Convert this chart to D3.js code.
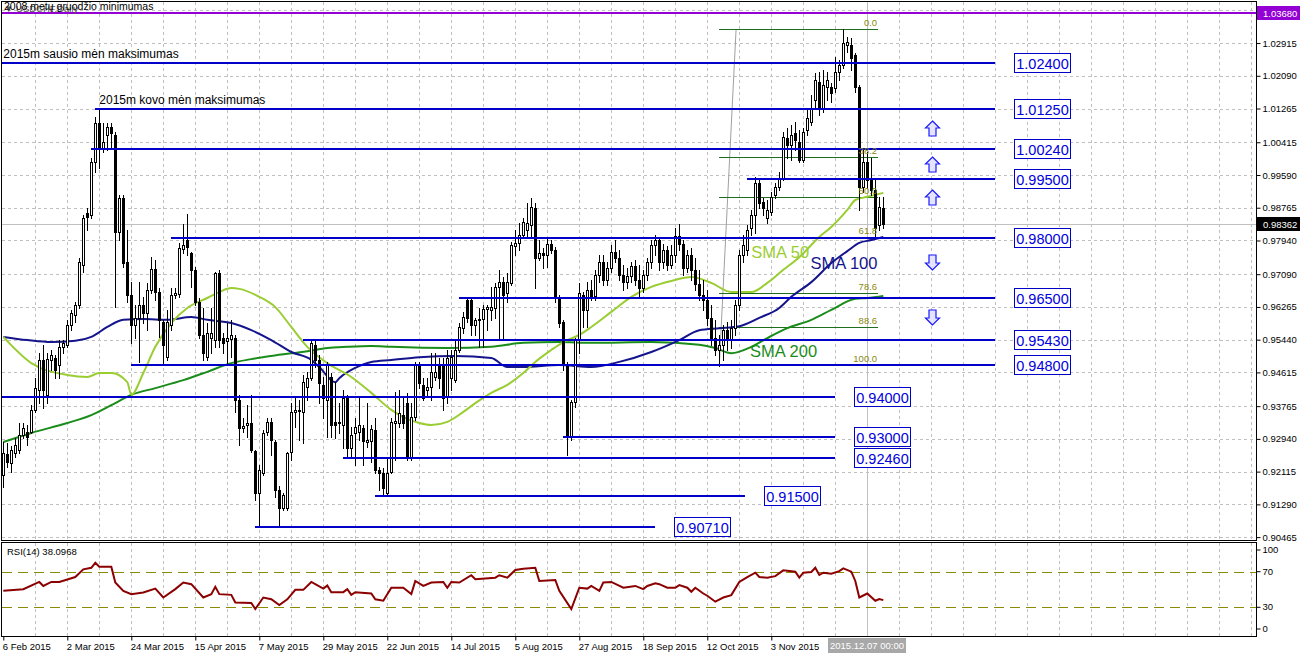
<!DOCTYPE html>
<html><head><meta charset="utf-8">
<script src="https://cdn.jsdelivr.net/npm/d3@7"></script>
<style>
html,body{margin:0;padding:0;background:#fff;}
svg{display:block;font-family:"Liberation Sans",Arial,sans-serif;}
</style></head><body>
<svg id="c" width="1300" height="654"></svg>
<script>
// ---------- DATA ----------
const openP=[
0.9203,0.9256,0.9233,0.9258,0.9266,0.9304,0.9311,0.9311,0.9367,0.9417,
0.9493,0.9405,0.9493,0.9498,0.9480,0.9526,0.9531,0.9581,0.9606,0.9631,
0.9732,0.9863,0.9858,0.9992,1.0090,1.0027,1.0060,1.0080,1.0060,0.9815,
0.9901,0.9740,0.9656,0.9581,0.9599,0.9631,0.9611,0.9669,0.9722,0.9664,
0.9589,0.9500,0.9581,0.9656,0.9659,0.9773,0.9795,0.9762,0.9720,0.9639,
0.9556,0.9500,0.9548,0.9543,0.9712,0.9548,0.9541,0.9546,0.9548,0.9392,
0.9321,0.9329,0.9334,0.9264,0.9158,0.9208,0.9311,0.9337,0.9286,0.9165,
0.9120,0.9120,0.9261,0.9362,0.9367,0.9362,0.9425,0.9447,0.9531,0.9493,
0.9430,0.9392,0.9450,0.9337,0.9334,0.9329,0.9400,0.9271,0.9309,0.9311,
0.9321,0.9286,0.9289,0.9316,0.9216,0.9208,0.9158,0.9211,0.9334,0.9334,
0.9354,0.9384,0.9246,0.9349,0.9480,0.9430,0.9417,0.9425,0.9450,0.9480,
0.9480,0.9400,0.9447,0.9442,0.9518,0.9573,0.9644,0.9644,0.9581,0.9594,
0.9596,0.9621,0.9619,0.9624,0.9677,0.9689,0.9662,0.9687,0.9780,0.9788,
0.9808,0.9820,0.9833,0.9876,0.9750,0.9762,0.9757,0.9785,0.9770,0.9649,
0.9589,0.9480,0.9299,0.9387,0.9543,0.9656,0.9619,0.9669,0.9654,0.9707,
0.9740,0.9694,0.9725,0.9765,0.9750,0.9707,0.9689,0.9704,0.9730,0.9694,
0.9674,0.9707,0.9740,0.9783,0.9795,0.9740,0.9770,0.9732,0.9757,0.9805,
0.9785,0.9725,0.9757,0.9720,0.9684,0.9656,0.9644,0.9599,0.9548,0.9518,
0.9531,0.9568,0.9543,0.9573,0.9631,0.9757,0.9770,0.9825,0.9858,0.9939,
0.9891,0.9851,0.9866,0.9909,0.9929,0.9951,1.0052,1.0035,1.0065,1.0042,
0.9997,1.0072,1.0093,1.0148,1.0193,1.0128,1.0181,1.0181,1.0178,1.0219,
1.0236,1.0287,1.0287,1.0261,1.0181,0.9929,0.9992,0.9946,0.9921,0.9833,
0.9876];
const highP=[
0.9286,0.9284,0.9276,0.9296,0.9334,0.9334,0.9329,0.9379,0.9447,0.9510,
0.9531,0.9510,0.9518,0.9505,0.9543,0.9543,0.9594,0.9619,0.9639,0.9750,
0.9858,0.9876,1.0002,1.0105,1.0128,1.0090,1.0090,1.0090,1.0067,0.9909,
0.9909,0.9820,0.9689,0.9631,0.9689,0.9652,0.9687,0.9752,0.9745,0.9674,
0.9594,0.9619,0.9674,0.9674,0.9788,0.9836,0.9861,0.9765,0.9727,0.9649,
0.9624,0.9586,0.9624,0.9715,0.9720,0.9561,0.9586,0.9594,0.9556,0.9405,
0.9347,0.9379,0.9405,0.9266,0.9228,0.9316,0.9347,0.9347,0.9291,0.9175,
0.9158,0.9261,0.9384,0.9400,0.9392,0.9455,0.9462,0.9543,0.9543,0.9505,
0.9450,0.9488,0.9460,0.9437,0.9384,0.9417,0.9405,0.9324,0.9347,0.9400,
0.9329,0.9384,0.9329,0.9347,0.9223,0.9221,0.9248,0.9347,0.9412,0.9417,
0.9400,0.9410,0.9384,0.9488,0.9488,0.9447,0.9447,0.9510,0.9510,0.9498,
0.9498,0.9518,0.9518,0.9543,0.9586,0.9614,0.9649,0.9649,0.9599,0.9624,
0.9631,0.9631,0.9677,0.9687,0.9720,0.9702,0.9712,0.9790,0.9820,0.9838,
0.9851,0.9888,0.9901,0.9888,0.9795,0.9775,0.9800,0.9795,0.9778,0.9656,
0.9594,0.9488,0.9392,0.9548,0.9687,0.9664,0.9689,0.9694,0.9720,0.9757,
0.9757,0.9740,0.9783,0.9795,0.9770,0.9732,0.9725,0.9740,0.9745,0.9732,
0.9720,0.9750,0.9795,0.9808,0.9800,0.9785,0.9780,0.9783,0.9825,0.9836,
0.9795,0.9770,0.9775,0.9750,0.9720,0.9694,0.9669,0.9631,0.9594,0.9556,
0.9581,0.9589,0.9594,0.9644,0.9770,0.9808,0.9833,0.9871,0.9954,0.9951,
0.9901,0.9896,0.9916,0.9939,0.9967,1.0067,1.0077,1.0085,1.0093,1.0072,
1.0077,1.0123,1.0161,1.0216,1.0219,1.0224,1.0219,1.0191,1.0256,1.0249,
1.0327,1.0307,1.0304,1.0266,1.0186,1.0022,1.0017,1.0002,0.9946,0.9904,
0.9904];
const lowP=[
0.9173,0.9223,0.9211,0.9248,0.9258,0.9296,0.9279,0.9309,0.9362,0.9384,
0.9372,0.9384,0.9468,0.9447,0.9447,0.9510,0.9526,0.9568,0.9589,0.9624,
0.9715,0.9820,0.9851,0.9967,0.9977,1.0017,1.0022,1.0027,0.9626,0.9795,
0.9727,0.9639,0.9536,0.9548,0.9488,0.9586,0.9568,0.9662,0.9644,0.9551,
0.9480,0.9493,0.9568,0.9649,0.9652,0.9762,0.9757,0.9677,0.9631,0.9548,
0.9493,0.9493,0.9510,0.9526,0.9526,0.9510,0.9485,0.9500,0.9362,0.9279,
0.9311,0.9299,0.9261,0.9140,0.9072,0.9203,0.9304,0.9253,0.9148,0.9074,
0.9115,0.9115,0.9241,0.9324,0.9291,0.9284,0.9392,0.9442,0.9475,0.9384,
0.9347,0.9299,0.9299,0.9296,0.9309,0.9271,0.9248,0.9248,0.9228,0.9291,
0.9228,0.9274,0.9236,0.9208,0.9165,0.9153,0.9153,0.9208,0.9241,0.9324,
0.9321,0.9241,0.9241,0.9342,0.9422,0.9392,0.9400,0.9392,0.9442,0.9422,
0.9367,0.9384,0.9417,0.9437,0.9513,0.9561,0.9589,0.9556,0.9556,0.9526,
0.9526,0.9568,0.9594,0.9599,0.9548,0.9543,0.9639,0.9682,0.9757,0.9770,
0.9803,0.9803,0.9800,0.9674,0.9745,0.9725,0.9727,0.9762,0.9639,0.9576,
0.9468,0.9253,0.9291,0.9374,0.9510,0.9576,0.9576,0.9644,0.9644,0.9689,
0.9682,0.9682,0.9715,0.9740,0.9694,0.9669,0.9674,0.9689,0.9682,0.9649,
0.9664,0.9694,0.9725,0.9757,0.9720,0.9725,0.9720,0.9725,0.9740,0.9770,
0.9707,0.9715,0.9694,0.9669,0.9644,0.9619,0.9581,0.9531,0.9505,0.9478,
0.9493,0.9518,0.9523,0.9556,0.9619,0.9740,0.9757,0.9808,0.9813,0.9876,
0.9858,0.9838,0.9858,0.9901,0.9921,0.9946,1.0002,0.9997,1.0022,0.9992,
0.9992,1.0060,1.0085,1.0128,1.0110,1.0118,1.0148,1.0143,1.0168,1.0198,
1.0229,1.0269,1.0224,1.0168,0.9871,0.9916,0.9926,0.9909,0.9803,0.9820,
0.9825];
const closeP=[
0.9258,0.9236,0.9266,0.9279,0.9304,0.9321,0.9299,0.9367,0.9422,0.9493,
0.9417,0.9495,0.9505,0.9468,0.9526,0.9536,0.9581,0.9611,0.9631,0.9740,
0.9851,0.9853,0.9992,1.0090,1.0027,1.0042,1.0080,1.0065,0.9815,0.9901,
0.9737,0.9656,0.9581,0.9599,0.9631,0.9611,0.9669,0.9722,0.9664,0.9594,
0.9531,0.9589,0.9656,0.9662,0.9775,0.9783,0.9778,0.9720,0.9639,0.9556,
0.9510,0.9561,0.9561,0.9712,0.9543,0.9536,0.9548,0.9556,0.9392,0.9321,
0.9326,0.9334,0.9266,0.9158,0.9216,0.9309,0.9337,0.9291,0.9165,0.9120,
0.9153,0.9258,0.9362,0.9367,0.9364,0.9437,0.9447,0.9536,0.9493,0.9435,
0.9397,0.9480,0.9329,0.9329,0.9337,0.9397,0.9271,0.9304,0.9324,0.9329,
0.9289,0.9291,0.9319,0.9216,0.9208,0.9170,0.9208,0.9337,0.9339,0.9359,
0.9334,0.9246,0.9349,0.9480,0.9435,0.9397,0.9425,0.9462,0.9462,0.9447,
0.9397,0.9498,0.9500,0.9518,0.9576,0.9601,0.9599,0.9581,0.9594,0.9596,
0.9621,0.9626,0.9626,0.9677,0.9689,0.9656,0.9689,0.9783,0.9788,0.9808,
0.9841,0.9838,0.9878,0.9750,0.9762,0.9757,0.9785,0.9770,0.9649,0.9586,
0.9480,0.9299,0.9387,0.9543,0.9662,0.9619,0.9669,0.9654,0.9707,0.9740,
0.9694,0.9725,0.9765,0.9750,0.9707,0.9689,0.9704,0.9730,0.9694,0.9674,
0.9707,0.9740,0.9783,0.9795,0.9740,0.9770,0.9732,0.9757,0.9805,0.9785,
0.9725,0.9757,0.9720,0.9684,0.9656,0.9644,0.9599,0.9548,0.9518,0.9531,
0.9568,0.9543,0.9573,0.9631,0.9757,0.9783,0.9820,0.9858,0.9939,0.9888,
0.9876,0.9871,0.9904,0.9929,0.9951,1.0055,1.0035,1.0060,1.0047,0.9997,
1.0067,1.0103,1.0128,1.0198,1.0128,1.0186,1.0198,1.0166,1.0219,1.0236,
1.0292,1.0294,1.0254,1.0181,0.9929,0.9992,0.9946,0.9921,0.9825,0.9878,
0.9836];

const dateLabels=["6 Feb 2015","2 Mar 2015","24 Mar 2015","15 Apr 2015","7 May 2015","29 May 2015","22 Jun 2015","14 Jul 2015","5 Aug 2015","27 Aug 2015","18 Sep 2015","12 Oct 2015","3 Nov 2015"];
const dateLabelBars=[0,16,32,48,64,80,96,112,128,144,160,176,192];
const priceTicks=[1.03740,1.02915,1.02090,1.01265,1.00415,0.99590,0.98765,0.97940,0.97090,0.96265,0.95440,0.94615,0.93765,0.92940,0.92115,0.91290,0.90465];
const rsiTicks=[100,70,30,0];

const sma50Bars=[0,7,16,21,24,27,31,32,35,38,42,46,51,54,57,59,64,68,72,76,81,87,92,97,100,104,107,111,115,118,122,126,130,133,137,140,144,147,152,157,162,167,172,177,182,187,191,195,199,204,207,211,213,216,220];
const sma50Vals=[0.9551,0.9485,0.9455,0.9450,0.9460,0.9460,0.9437,0.9405,0.9460,0.9526,0.9586,0.9624,0.9649,0.9664,0.9674,0.9672,0.9652,0.9626,0.9576,0.9526,0.9485,0.9450,0.9410,0.9367,0.9349,0.9334,0.9329,0.9337,0.9362,0.9384,0.9410,0.9430,0.9460,0.9488,0.9518,0.9538,0.9556,0.9576,0.9614,0.9652,0.9677,0.9692,0.9702,0.9687,0.9664,0.9664,0.9687,0.9720,0.9752,0.9803,0.9828,0.9871,0.9896,0.9904,0.9914];
const sma100Bars=[0,6,12,18,22,26,30,35,41,47,51,57,62,67,72,77,79,83,84,88,92,97,104,113,122,126,130,139,147,154,162,169,174,179,184,189,194,197,202,207,211,214,217,220];
const sma100Vals=[0.9551,0.9543,0.9538,0.9541,0.9551,0.9576,0.9594,0.9596,0.9594,0.9601,0.9594,0.9586,0.9568,0.9543,0.9513,0.9493,0.9475,0.9437,0.9447,0.9473,0.9488,0.9493,0.9500,0.9503,0.9498,0.9475,0.9475,0.9480,0.9475,0.9488,0.9513,0.9543,0.9568,0.9573,0.9578,0.9599,0.9624,0.9652,0.9689,0.9737,0.9767,0.9788,0.9795,0.9803];
const sma200Bars=[0,7,16,22,27,32,38,45,51,57,62,67,76,81,86,92,97,111,122,130,139,147,162,174,178,182,187,191,196,202,207,213,216,220];
const sma200Vals=[0.9286,0.9309,0.9334,0.9354,0.9379,0.9405,0.9422,0.9442,0.9463,0.9485,0.9495,0.9503,0.9515,0.9523,0.9526,0.9528,0.9526,0.9523,0.9526,0.9536,0.9538,0.9536,0.9538,0.9531,0.9523,0.9510,0.9526,0.9548,0.9573,0.9594,0.9619,0.9647,0.9649,0.9654];

const rsiBars=[0,5,9,10,12,14,18,20,22,23,24,27,28,30,32,35,38,40,43,45,47,50,52,53,54,57,58,62,63,65,67,69,71,73,75,77,80,81,82,85,86,87,88,92,93,95,97,100,102,103,105,107,110,111,112,114,117,118,123,124,126,128,130,133,134,138,139,142,144,146,147,149,150,152,155,158,160,161,163,164,166,168,169,171,172,173,175,176,178,180,182,184,186,188,189,191,193,195,198,199,200,202,203,204,205,207,209,210,212,213,214,216,218,219,220];
const rsiVals=[48.5,50.4,58.5,54,58.5,58.5,64,72.6,74.4,80,75.6,75.6,57.8,48.5,44.8,46.7,51,41,50.4,57.8,56,41,44.8,53,44.8,44,35.5,34.8,28,41,39,32.6,39,49.6,49.6,58.5,51,54.4,47,47,50.4,44,47,45.5,39,37.4,52,52,44.8,59.6,54,57.8,58.5,52,58.5,57.8,66,61.5,63.3,66,63.3,71.9,73.3,74.4,59.6,60.7,48.5,28,52,51,54,48.5,57.8,58.5,52,54,50.4,54,57,56,52,52,55,52,47.4,52,45.5,43,36.3,41,43.7,58.5,64,68.9,64,63.3,65,71.5,70,63.3,68.9,69.6,74.4,66.3,68.9,67.8,70.7,73.7,70,59.6,41,45.5,37.4,39.3,38.0968];
const rsiLevels=[70,30];

const levelPrices=[1.02400,1.01250,1.00240,0.99500,0.98000,0.96500,0.95430,0.94800,0.94000,0.93000,0.92460,0.91500,0.90710];
const levelStartBars=[-0.3,23,22,186,42,114,75,32,-1,140,85,93,63];
const levelEndBars=[248,248,248,248,248,248,248,248,208,208,208,185.5,163];
const levelNotes=[{price:1.02400,bar:0,text:"2015m sausio mėn maksimumas"},{price:1.01250,bar:24,text:"2015m kovo mėn maksimumas"}];
const topLevelPrice=1.03680, topLevelNote="2008 metų gruodžio minimumas";
const bidPrice=0.98362;
const markerBar=216, markerLabel="2015.12.07 00:00";
const fibLevels=[0,38.2,50,61.8,78.6,88.6,100];
const fibHigh=1.0327, fibLow=0.9480, fibStartBar=179, fibEndBar=218.7, fibTopBar=183.2;
const arrowBar=232.1;
const upArrowPrices=[1.0077,0.9987,0.9904];
const downArrowPrices=[0.9740,0.9601];
const smaNames=["SMA 50","SMA 100","SMA 200"];
const smaLabelBars=[187,201.8,186.7];
const smaLabelPrices=[0.9750,0.9722,0.9500];
const symbolTitle="USDCHF,Daily";
const rsiTitle="RSI(14) 38.0968";

// ---------- LAYOUT ----------
const svg=d3.select("#c");
const L=2,R=1256,T=2,B=540,RT=543,RB=636;
const x=d3.scaleLinear().domain([0,313]).range([3.3,1255.3]);
const y=d3.scaleLinear().domain([0.90465,1.02915]).range([537.1,43.05]);
const yr=d3.scaleLinear().domain([0,100]).range([634,545]);
const px=v=>Math.round(v)+0.5;

svg.append("rect").attr("width",1300).attr("height",654).attr("fill","#fff");
svg.append("defs").append("clipPath").attr("id","mc").append("rect").attr("x",L).attr("y",T).attr("width",R-L).attr("height",B-T);
svg.select("defs").append("clipPath").attr("id","rc").append("rect").attr("x",L).attr("y",RT).attr("width",R-L).attr("height",RB-RT);

const main=svg.append("g").attr("clip-path","url(#mc)");
const rsiG=svg.append("g").attr("clip-path","url(#rc)");

// vertical grids
const vGrid=d3.range(8,313,8);
[[main,T,B],[rsiG,RT,RB]].forEach(([g,t,b])=>{
  g.selectAll("line.vg").data(vGrid).join("line").attr("class","vg")
   .attr("x1",d=>px(x(d))).attr("x2",d=>px(x(d))).attr("y1",t).attr("y2",b)
   .attr("stroke","#c0c0c0").attr("stroke-dasharray","3,3").attr("shape-rendering","crispEdges");
});
// horizontal grid
main.selectAll("line.hg").data(priceTicks).join("line").attr("class","hg")
  .attr("x1",L).attr("x2",R).attr("y1",d=>px(y(d))).attr("y2",d=>px(y(d)))
  .attr("stroke","#c0c0c0").attr("stroke-dasharray","3,3").attr("shape-rendering","crispEdges");

// bid line and marker line
main.append("line").attr("x1",L).attr("x2",R).attr("y1",px(y(bidPrice))).attr("y2",px(y(bidPrice))).attr("stroke","#c0c0c0").attr("shape-rendering","crispEdges");
[[main,T,B],[rsiG,RT,RB]].forEach(([g,t,b])=>{
  g.append("line").attr("x1",px(x(markerBar))).attr("x2",px(x(markerBar))).attr("y1",t).attr("y2",b).attr("stroke","#c0c0c0").attr("shape-rendering","crispEdges");
});

// fib
const fibPrice=l=>fibHigh-(fibHigh-fibLow)*l/100;
main.append("line").attr("x1",x(fibStartBar)).attr("y1",y(fibLow)).attr("x2",x(fibTopBar)).attr("y2",y(fibHigh))
  .attr("stroke","#a0a0a0").attr("stroke-width",1);
main.selectAll("line.fib").data(fibLevels).join("line").attr("class","fib")
  .attr("x1",x(fibStartBar)).attr("x2",x(fibEndBar)).attr("y1",d=>px(y(fibPrice(d)))).attr("y2",d=>px(y(fibPrice(d))))
  .attr("stroke","#1e6e1e").attr("shape-rendering","crispEdges");

// SMA lines
const smaSets=[[sma200Bars,sma200Vals,"#1a8c1a"],[sma100Bars,sma100Vals,"#14148c"],[sma50Bars,sma50Vals,"#9acd32"]];
const ln=d3.line().x(d=>x(d[0])).y(d=>y(d[1])).curve(d3.curveMonotoneX);
smaSets.forEach(([bs,vs,col])=>{
  main.append("path").attr("d",ln(bs.map((b,i)=>[b,vs[i]]))).attr("fill","none").attr("stroke",col).attr("stroke-width",2);
});

// candles
const bars=openP.map((o,i)=>({i,o,h:highP[i],l:lowP[i],c:closeP[i]}));
const cg=main.append("g").attr("shape-rendering","crispEdges");
cg.selectAll("line").data(bars).join("line")
  .attr("x1",d=>Math.round(x(d.i))+0.5).attr("x2",d=>Math.round(x(d.i))+0.5)
  .attr("y1",d=>Math.round(y(d.h))).attr("y2",d=>Math.round(y(d.l))+1).attr("stroke","#000");
cg.selectAll("rect").data(bars).join("rect")
  .attr("x",d=>Math.round(x(d.i))-0.5).attr("width",2)
  .attr("y",d=>Math.round(y(Math.max(d.o,d.c)))+0.5)
  .attr("height",d=>Math.max(0.01,Math.round(y(Math.min(d.o,d.c)))-Math.round(y(Math.max(d.o,d.c)))))
  .attr("fill",d=>d.c>=d.o?"#fff":"#000").attr("stroke","#000");

// level lines
const lv=levelPrices.map((p,i)=>({p,s:levelStartBars[i],e:levelEndBars[i]}));
main.selectAll("line.lv").data(lv).join("line").attr("class","lv")
  .attr("x1",d=>x(d.s)).attr("x2",d=>x(d.e)).attr("y1",d=>Math.round(y(d.p))).attr("y2",d=>Math.round(y(d.p)))
  .attr("stroke","#0000c8").attr("stroke-width",2).attr("shape-rendering","crispEdges");
main.append("line").attr("x1",L).attr("x2",R).attr("y1",Math.round(y(topLevelPrice))).attr("y2",Math.round(y(topLevelPrice)))
  .attr("stroke","#9400d3").attr("stroke-width",2).attr("shape-rendering","crispEdges");

// price boxes
const boxes=main.selectAll("g.bx").data(lv).join("g").attr("class","bx")
  .attr("transform",d=>`translate(${Math.round(x(d.e))+19},${Math.round(y(d.p))})`);
boxes.append("rect").attr("x",0.5).attr("y",-9.5).attr("width",56).attr("height",19).attr("fill","#fff").attr("stroke","#0000c8");
boxes.append("text").attr("x",28.5).attr("y",5.5).attr("text-anchor","middle").attr("font-size",14.5).attr("fill","#0000e0")
  .text(d=>d3.format(".5f")(d.p));

// fib labels
main.selectAll("text.fl").data(fibLevels).join("text").attr("class","fl")
  .attr("x",x(fibEndBar)-1).attr("y",d=>y(fibPrice(d))-3).attr("text-anchor","end").attr("font-size",9.5)
  .attr("fill","#8a8a10").text(d=>d3.format(".1f")(d));

// notes
main.selectAll("text.nt").data(levelNotes).join("text").attr("class","nt")
  .attr("x",d=>x(d.bar)).attr("y",d=>y(d.price)-5).attr("font-size",12).attr("fill","#000").text(d=>d.text);

// SMA labels
const smaCols=["#9acd32","#14148c","#1a8c1a"];
main.selectAll("text.sl").data(smaNames).join("text").attr("class","sl")
  .attr("x",(d,i)=>x(smaLabelBars[i])).attr("y",(d,i)=>y(smaLabelPrices[i])).attr("font-size",16.5)
  .attr("fill",(d,i)=>smaCols[i]).text(d=>d);

// arrows
const upPath="M0,-7.5L7,-0.5L3.5,-0.5L3.5,7.5L-3.5,7.5L-3.5,-0.5L-7,-0.5Z";
const ar=upArrowPrices.map(p=>({p,r:0})).concat(downArrowPrices.map(p=>({p,r:180})));
main.selectAll("path.ar").data(ar).join("path").attr("class","ar")
  .attr("transform",d=>`translate(${Math.round(x(arrowBar))+0.5},${Math.round(y(d.p))+0.5}) rotate(${d.r})`)
  .attr("d",upPath).attr("fill","#e4e4ff").attr("stroke","#1a1aff").attr("stroke-width",1.2);

// title and top note (overlapping, as in the terminal)
main.append("text").attr("x",4).attr("y",12).attr("font-size",9.5).attr("fill","#555").text("\u25BC "+symbolTitle);
main.append("text").attr("x",4).attr("y",9.5).attr("font-size",10.5).attr("fill","#000").text(topLevelNote);

// RSI
rsiG.selectAll("line.rl").data(rsiLevels).join("line").attr("class","rl")
  .attr("x1",L).attr("x2",R).attr("y1",d=>px(yr(d))).attr("y2",d=>px(yr(d)))
  .attr("stroke","#8b8b00").attr("stroke-dasharray","10,6").attr("shape-rendering","crispEdges");
rsiG.append("path").attr("d",d3.line().x(d=>x(d[0])).y(d=>yr(d[1]))(rsiBars.map((b,i)=>[b,rsiVals[i]])))
  .attr("fill","none").attr("stroke","#8b0000").attr("stroke-width",2);
rsiG.append("text").attr("x",7).attr("y",555).attr("font-size",9.5).attr("fill","#000").text(rsiTitle);

// borders
svg.append("rect").attr("x",L-0.5).attr("y",T-0.5).attr("width",R-L+1).attr("height",B-T+1).attr("fill","none").attr("stroke","#000");
svg.append("rect").attr("x",L-0.5).attr("y",RT-0.5).attr("width",R-L+1).attr("height",RB-RT+1).attr("fill","none").attr("stroke","#000");

// right price axis
const ya=svg.append("g").attr("transform",`translate(${R+0.5},0)`)
  .call(d3.axisRight(y).tickValues(priceTicks).tickSize(4).tickPadding(2).tickFormat(d3.format(".5f")));
ya.select(".domain").remove();
ya.selectAll("text").attr("font-size",9.5).attr("font-family","Liberation Sans, Arial").attr("fill","#000");
ya.selectAll("line").attr("stroke","#000");
// purple & bid labels
[[topLevelPrice,"#9400d3"],[bidPrice,"#000"]].forEach(([p,col])=>{
  const g=svg.append("g").attr("transform",`translate(${R+1},${Math.round(y(p))})`);
  g.append("rect").attr("x",0).attr("y",-7).attr("width",44).attr("height",14).attr("fill",col);
  g.append("text").attr("x",6).attr("y",3.5).attr("font-size",9.5).attr("fill","#fff").text(d3.format(".5f")(p));
});
// RSI axis
const ra=svg.append("g").attr("transform",`translate(${R+0.5},0)`)
  .call(d3.axisRight(yr).tickValues(rsiTicks).tickSize(4).tickPadding(2));
ra.select(".domain").remove();
ra.selectAll(".tick").attr("transform",d=>`translate(0,${Math.min(629,Math.max(550,yr(d)))})`);
ra.selectAll("text").attr("font-size",9.5).attr("font-family","Liberation Sans, Arial").attr("fill","#000");
ra.selectAll("line").attr("stroke","#000");

// bottom date axis
const xa=svg.append("g").attr("transform",`translate(0,${RB+0.5})`)
  .call(d3.axisBottom(x).tickValues(dateLabelBars).tickSize(4).tickPadding(3).tickFormat((d,i)=>dateLabels[i]));
xa.select(".domain").remove();
xa.selectAll("text").attr("text-anchor","start").attr("dx",-1).attr("font-size",9.5).attr("font-family","Liberation Sans, Arial").attr("fill","#000");
xa.selectAll("line").attr("stroke","#000");
// marker date label
const mg=svg.append("g").attr("transform",`translate(${Math.round(x(markerBar))},${RB+2})`);
mg.append("rect").attr("x",-39).attr("y",0).attr("width",78).attr("height",15).attr("fill","#a8a8a8");
mg.append("text").attr("x",0).attr("y",11).attr("text-anchor","middle").attr("font-size",9.5).attr("fill","#fff").text(markerLabel);
</script>
</body></html>
